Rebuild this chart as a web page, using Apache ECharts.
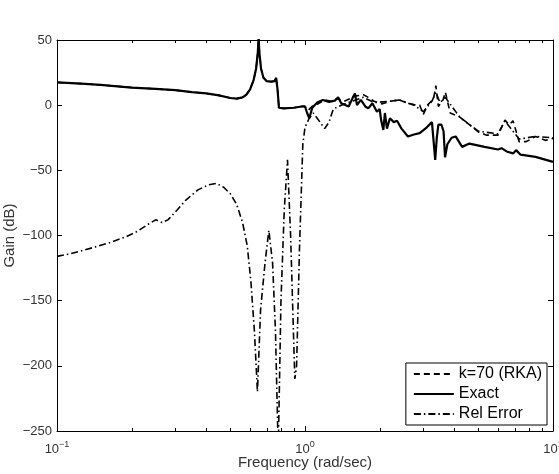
<!DOCTYPE html>
<html>
<head>
<meta charset="utf-8">
<script src="https://cdn.jsdelivr.net/npm/echarts@6/dist/echarts.min.js"></script>
<style>
  html, body { margin: 0; padding: 0; background: #fff; }
  #main { width: 559px; height: 474px; }
</style>
</head>
<body>
<div id="main"></div>
<script>
// frequency (rad/sec) and gain (dB)
var exactFreq = [0.1, 0.125, 0.15, 0.2, 0.25, 0.3, 0.35, 0.4, 0.45, 0.5, 0.53, 0.56, 0.58, 0.6, 0.62, 0.635, 0.645, 0.65, 0.655, 0.665, 0.68, 0.7, 0.73, 0.755, 0.765, 0.775, 0.785, 0.82, 0.9, 0.97, 1.0,
  1.02, 1.04, 1.07, 1.12, 1.18, 1.25, 1.32, 1.36, 1.4, 1.46, 1.5, 1.56, 1.59, 1.62, 1.68, 1.75, 1.8, 1.87, 1.95, 2.0, 2.03, 2.07, 2.1, 2.14, 2.2, 2.28, 2.35, 2.45, 2.6, 2.75, 2.9,
  3.1, 3.25, 3.3, 3.35, 3.4, 3.45, 3.55, 3.62, 3.67, 3.75, 3.9, 4.05, 4.3, 4.6, 5.3, 6.0, 6.2, 6.5, 6.9, 7.1, 7.4, 8.5, 10];
var exactGain = [17.5, 16.5, 15.5, 13.5, 12.5, 11.5, 10, 9, 7.5, 5.5, 5, 6, 8, 12, 19, 28, 40, 52, 40, 28, 21, 18.5, 18, 18.5, 21, 12, -2, -2.5, -2, -1, -1,
  -6, -10, -2, 2, 4, 2.5, 3.5, 6, 1.5, 0, -1, 6, 9, 0, 4, -1, -2.5, 1.5, -5, -3, -12, -19, -6, -18, -10, -13, -12, -18, -24, -22.5, -21.5,
  -17, -13, -14, -42, -25, -15, -15, -20, -40, -30, -25, -24, -32, -29.5, -32, -34, -33, -35.5, -37, -34.5, -38, -39.7, -43.5];

// k=70 reduced model: lies on the exact curve below 1 rad/sec
var rkaFreq = [1.0, 1.03, 1.08, 1.13, 1.2, 1.28, 1.35, 1.44, 1.52, 1.6, 1.72, 1.8, 1.9, 2.05, 2.2, 2.4, 2.6, 2.75, 2.9, 3.0, 3.12, 3.3, 3.37, 3.45, 3.6, 3.68, 3.85,
  4.2, 4.6, 5.0, 5.4, 6.0, 6.4, 6.65, 6.9, 7.1, 7.3, 7.8, 8.5, 9.3, 10];
var rkaGain = [-1, -4, 0, 1, 4, 3, 5, 3, 5, 7, 8, 6, 3, 1, 3, 4, 1.5, 0.5, 0, -7, 0, 5, 15, -1, 4, 10, -6,
  -9, -15, -20.5, -23, -23, -11.5, -15, -12, -20, -28, -28, -24, -27, -25.5];

var errFreq = [0.1, 0.113, 0.13, 0.16, 0.19, 0.21, 0.235, 0.25, 0.265, 0.28, 0.3, 0.33, 0.37, 0.41, 0.44, 0.47, 0.5, 0.53, 0.56, 0.585, 0.605, 0.625, 0.643,
  0.662, 0.69, 0.715, 0.74, 0.76, 0.78, 0.8, 0.825, 0.85, 0.875, 0.9, 0.91, 0.925, 0.95, 0.98, 1.0,
  1.04, 1.08, 1.12, 1.2, 1.25, 1.3, 1.4, 1.55, 1.72, 1.9, 2.2, 2.4, 2.75, 3.0, 3.25, 3.37, 3.5, 3.68, 4.2, 5.0, 6.0, 6.4, 7.3, 8.5, 10];
var errGain = [-116, -114, -111, -106, -101, -97, -91, -88, -90, -88, -82, -73, -65, -61, -60, -63, -68, -76, -90, -108, -135, -173, -220,
  -157, -121, -96, -121, -173, -265, -150, -80, -42, -100, -180, -210, -200, -110, -30, -17,
  -10, -6, -10, -18, -13, -3, 0, 3, 6, 2, 3, 4, 0, -5, 3, 10, 2, 6, -9, -20, -22, -12, -26, -24, -25];

var minorMults = [2, 3, 4, 5, 6, 7, 8, 9];

function pairs(xs, ys) {
  var out = [];
  for (var i = 0; i < xs.length; i++) out.push([xs[i], ys[i]]);
  return out;
}

var font = 'Liberation Sans, Arial, Helvetica, sans-serif';
var chart = echarts.init(document.getElementById('main'));

var xLabel = {
  show: true, color: '#333', margin: 9, fontFamily: font,
  formatter: function (v) {
    var e = Math.round(Math.log(v) / Math.LN10);
    return '{b|10}{s|' + (e < 0 ? '\u2212' + (-e) : e) + '}';
  },
  rich: {
    b: { fontSize: 13, fontFamily: font, color: '#333' },
    s: { fontSize: 9, fontFamily: font, color: '#333', padding: [0, 0, 9, 0] }
  }
};

var option = {
  animation: false,
  backgroundColor: '#fff',
  grid: { left: 57, right: 6, top: 40, bottom: 43, outerBoundsMode: 'none', containLabel: false },
  xAxis: [{
    type: 'log', logBase: 10, min: 0.1, max: 10,
    name: 'Frequency (rad/sec)', nameLocation: 'middle', nameGap: 24, nameMoveOverlap: false,
    nameTextStyle: { fontSize: 15, color: '#333', fontFamily: font },
    axisLine: { onZero: false, lineStyle: { color: '#000', width: 1 } },
    axisTick: { inside: true, length: 5, lineStyle: { color: '#000' } },
    axisLabel: xLabel,
    splitLine: { show: false }
  }, {
    type: 'log', logBase: 10, min: 0.1, max: 10, position: 'top',
    axisLine: { onZero: false, lineStyle: { color: '#000', width: 1 } },
    axisTick: { inside: true, length: 5, lineStyle: { color: '#000' } },
    axisLabel: { show: false },
    splitLine: { show: false }
  }],
  yAxis: [{
    type: 'value', min: -250, max: 50, interval: 50,
    name: 'Gain (dB)', nameLocation: 'middle', nameGap: 40, nameMoveOverlap: false,
    nameTextStyle: { fontSize: 15, color: '#333', fontFamily: font },
    axisLine: { show: true, onZero: false, lineStyle: { color: '#000', width: 1 } },
    axisTick: { show: true, inside: true, length: 5, lineStyle: { color: '#000' } },
    axisLabel: {
      color: '#333', fontSize: 13, fontFamily: font, margin: 5,
      formatter: function (v) { return v < 0 ? '\u2212' + (-v) : String(v); }
    },
    splitLine: { show: false }
  }, {
    type: 'value', min: -250, max: 50, interval: 50, position: 'right',
    axisLine: { show: true, onZero: false, lineStyle: { color: '#000', width: 1 } },
    axisTick: { show: true, inside: true, length: 5, lineStyle: { color: '#000' } },
    axisLabel: { show: false },
    splitLine: { show: false }
  }],
  legend: {
    orient: 'vertical', right: 12, bottom: 49,
    backgroundColor: '#fff', borderColor: '#000', borderWidth: 1, borderRadius: 0,
    padding: [3, 5, 3, 7], itemGap: 4, itemWidth: 40, itemHeight: 14,
    itemStyle: { opacity: 0 },
    textStyle: { fontSize: 16, color: '#000', fontFamily: font },
    data: ['k=70 (RKA)', 'Exact', 'Rel Error']
  },
  series: [{
    name: 'k=70 (RKA)', type: 'line', showSymbol: false, symbol: 'none',
    data: pairs(exactFreq.slice(0, 31), exactGain.slice(0, 31)).concat(pairs(rkaFreq.slice(1), rkaGain.slice(1))),
    lineStyle: { color: '#000', width: 1.6, type: [6, 4] },
    itemStyle: { color: '#000' }, z: 3
  }, {
    name: 'Exact', type: 'line', showSymbol: false, symbol: 'none',
    data: pairs(exactFreq, exactGain),
    lineStyle: { color: '#000', width: 2.2 },
    itemStyle: { color: '#000' }, z: 4
  }, {
    name: 'Rel Error', type: 'line', showSymbol: false, symbol: 'none',
    data: pairs(errFreq, errGain),
    lineStyle: { color: '#000', width: 1.6, type: [7, 3, 1.5, 3] },
    itemStyle: { color: '#000' }, z: 3
  }]
};
chart.setOption(option);

// minor ticks at 2..9 per decade, inside on bottom and top edges
var yBottom = chart.convertToPixel({ yAxisIndex: 0 }, -250);
var yTop = chart.convertToPixel({ yAxisIndex: 0 }, 50);
var ticks = [];
[0.1, 1].forEach(function (dec) {
  minorMults.forEach(function (m) {
    var x = Math.round(chart.convertToPixel({ xAxisIndex: 0 }, dec * m)) + 0.5;
    ticks.push({ type: 'line', silent: true, shape: { x1: x, y1: yBottom, x2: x, y2: yBottom - 3 }, style: { stroke: '#000', lineWidth: 1 } });
    ticks.push({ type: 'line', silent: true, shape: { x1: x, y1: yTop, x2: x, y2: yTop + 3 }, style: { stroke: '#000', lineWidth: 1 } });
  });
});
chart.setOption({ graphic: ticks });
</script>
</body>
</html>
